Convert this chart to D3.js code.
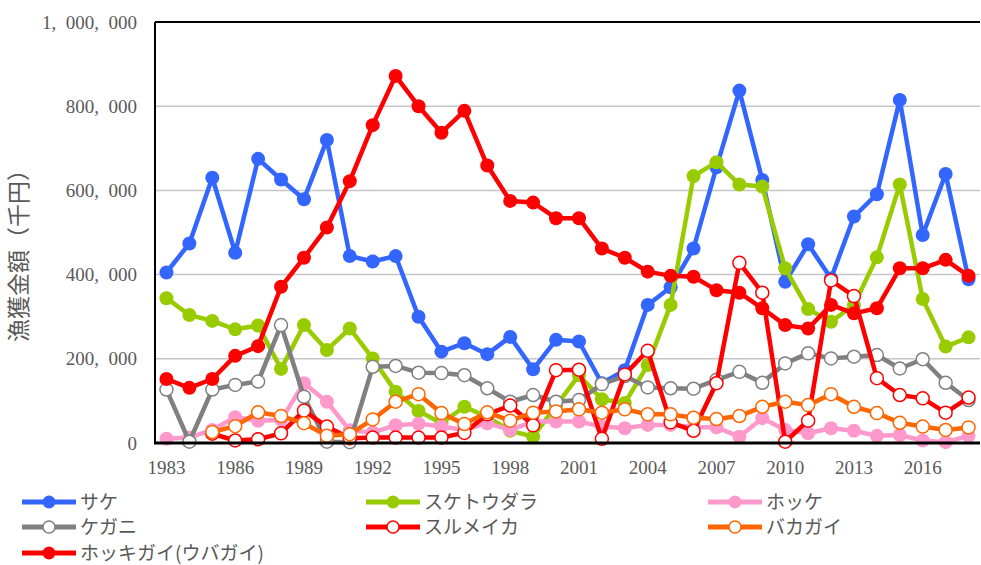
<!DOCTYPE html>
<html>
<head>
<meta charset="utf-8">
<script src="https://cdn.jsdelivr.net/npm/d3@7"></script>
<style>
  body { margin: 0; background: #fff; }
  svg { display: block; }
</style>
</head>
<body>
<div id="chart"></div>
<script>
// 漁獲金額（千円）, 1983-2018
const years = d3.range(1983, 2019)
const yTicks = [0, 200000, 400000, 600000, 800000, 1000000]

const sake = [405, 474, 630, 452, 675, 626, 579, 720, 444, 431, 444, 300,
  217, 237, 211, 252, 175, 245, 241, 142, 173, 328, 370, 462,
  655, 837, 625, 383, 472, 391, 538, 591, 815, 494, 639, 389]
const suketoudara = [344, 304, 290, 270, 279, 176, 280, 221, 272, 201, 122, 76,
  47, 86, 62, 29, 15, 88, 161, 104, 95, 185, 328, 634,
  667, 614, 609, 415, 318, 288, 328, 441, 614, 342, 229, 251]
const hokke = [10, 13, 31, 61, 53, 55, 142, 98, 30, 25, 42, 46,
  39, 31, 47, 31, 51, 51, 51, 39, 35, 43, 43, 38,
  37, 15, 59, 31, 23, 35, 29, 17, 19, 6, 2, 17]
const kegani = [127, 3, 127, 138, 146, 280, 110, 3, 2, 181, 183, 167,
  166, 161, 130, 98, 114, 98, 102, 140, 159, 132, 130, 129,
  150, 169, 143, 189, 213, 201, 205, 209, 177, 199, 143, 102]
const surumeika = [null, null, 22, 6, 9, 23, 77, 39, 11, 13, 13, 13,
  13, 24, 68, 89, 42, 173, 174, 10, 163, 219, 49, 29,
  142, 428, 357, 3, 53, 386, 349, 154, 114, 106, 72, 108]
const bakagai = [null, null, 26, 40, 73, 64, 47, 17, 21, 56, 98, 116,
  71, 45, 73, 53, 72, 75, 80, 72, 80, 68, 68, 60,
  57, 64, 86, 98, 90, 116, 86, 71, 48, 39, 31, 37]
const hokkigai = [152, 131, 152, 207, 230, 371, 440, 512, 622, 755, 872, 800,
  737, 789, 659, 575, 571, 534, 534, 462, 440, 407, 397, 395,
  363, 357, 320, 280, 272, 328, 308, 320, 415, 415, 435, 397]

const series = [
  {name: 'サケ', values: sake, color: '#3366ff', hollow: false},
  {name: 'スケトウダラ', values: suketoudara, color: '#99cc00', hollow: false},
  {name: 'ホッケ', values: hokke, color: '#ff99cc', hollow: false},
  {name: 'ケガニ', values: kegani, color: '#808080', hollow: true},
  {name: 'スルメイカ', values: surumeika, color: '#ff0000', hollow: true},
  {name: 'バカガイ', values: bakagai, color: '#ff6600', hollow: true},
  {name: 'ホッキガイ(ウバガイ)', values: hokkigai, color: '#ff0000', hollow: false}
]

const width = 981, height = 565
const plotLeft = 155, plotRight = 980, plotTop = 22, plotBottom = 443
const numFont = '"Liberation Serif", "DejaVu Serif", serif'
const jpFont = '"Noto Sans CJK JP", sans-serif'

const x = d3.scaleBand().domain(years).range([plotLeft, plotRight])
const y = d3.scaleLinear().domain([0, 1000000]).range([plotBottom, plotTop])
const cx = yr => x(yr) + x.bandwidth() / 2

const svg = d3.select('#chart').append('svg')
  .attr('width', width)
  .attr('height', height)

// grid
svg.append('g')
  .selectAll('line')
  .data(yTicks.filter(v => v > 0 && v < 1000000))
  .enter().append('line')
  .attr('x1', plotLeft).attr('x2', plotRight)
  .attr('y1', d => y(d)).attr('y2', d => y(d))
  .attr('stroke', '#c6c6c6')
  .attr('stroke-width', 1.5)

// frame
svg.append('line').attr('x1', plotLeft).attr('x2', plotRight).attr('y1', y(1000000)).attr('y2', y(1000000))
  .attr('stroke', '#000').attr('stroke-width', 2)
svg.append('line').attr('x1', plotLeft).attr('x2', plotLeft).attr('y1', plotTop).attr('y2', plotBottom)
  .attr('stroke', '#000').attr('stroke-width', 2)

// y tick labels  ("1, 000, 000" style)
svg.append('g')
  .selectAll('text')
  .data(yTicks)
  .enter().append('text')
  .attr('x', 137)
  .attr('y', d => y(d))
  .attr('dy', '0.35em')
  .attr('text-anchor', 'end')
  .attr('font-family', numFont)
  .attr('font-size', 19)
  .attr('fill', '#595959')
  .style('white-space', 'pre')
  .text(d => d3.format(',')(d).replace(/,/g, ',\u2002'))

// x tick labels
svg.append('g')
  .selectAll('text')
  .data(years.filter((d, i) => i % 3 === 0))
  .enter().append('text')
  .attr('x', d => cx(d))
  .attr('y', 474)
  .attr('text-anchor', 'middle')
  .attr('font-family', numFont)
  .attr('font-size', 19)
  .attr('fill', '#595959')
  .text(d => d)

// y axis title
svg.append('text')
  .attr('transform', 'translate(27,250) rotate(-90)')
  .attr('text-anchor', 'middle')
  .attr('font-family', jpFont)
  .attr('font-size', 23)
  .attr('fill', '#595959')
  .text('漁獲金額（千円）')

// lines
const line = d3.line()
  .defined(d => d.v !== null)
  .x(d => cx(d.year))
  .y(d => y(d.v * 1000))

const plot = svg.append('g')
series.forEach(s => {
  const pts = years.map((yr, i) => ({year: yr, v: s.values[i]}))
  const g = plot.append('g')
  g.append('path')
    .datum(pts)
    .attr('d', line)
    .attr('fill', 'none')
    .attr('stroke', s.color)
    .attr('stroke-width', 4.5)
    .attr('stroke-linejoin', 'round')
  g.selectAll('circle')
    .data(pts.filter(d => d.v !== null))
    .enter().append('circle')
    .attr('cx', d => cx(d.year))
    .attr('cy', d => y(d.v * 1000))
    .attr('r', s.hollow ? 6.5 : 7)
    .attr('fill', s.hollow ? '#fff' : s.color)
    .attr('stroke', s.color)
    .attr('stroke-width', s.hollow ? 1.5 : 0)
})

// bottom axis line
svg.append('line').attr('x1', plotLeft - 1).attr('x2', plotRight).attr('y1', plotBottom).attr('y2', plotBottom)
  .attr('stroke', '#000').attr('stroke-width', 3)

// legend
const legendCols = [22, 366, 708]
const legendRows = [502, 527, 553]
const legend = svg.append('g')
  .selectAll('g')
  .data(series)
  .enter().append('g')
  .attr('transform', (d, i) => 'translate(' + legendCols[i % 3] + ',' + legendRows[Math.floor(i / 3)] + ')')

legend.append('line')
  .attr('x1', 0).attr('x2', 54)
  .attr('stroke', d => d.color)
  .attr('stroke-width', 5)
legend.append('circle')
  .attr('cx', 27)
  .attr('r', d => d.hollow ? 6 : 6.5)
  .attr('fill', d => d.hollow ? '#fff' : d.color)
  .attr('stroke', d => d.color)
  .attr('stroke-width', d => d.hollow ? 1.5 : 0)
legend.append('text')
  .attr('x', 58)
  .attr('dy', '0.35em')
  .attr('font-family', jpFont)
  .attr('font-size', 19)
  .attr('fill', '#595959')
  .text(d => d.name)
</script>
</body>
</html>
